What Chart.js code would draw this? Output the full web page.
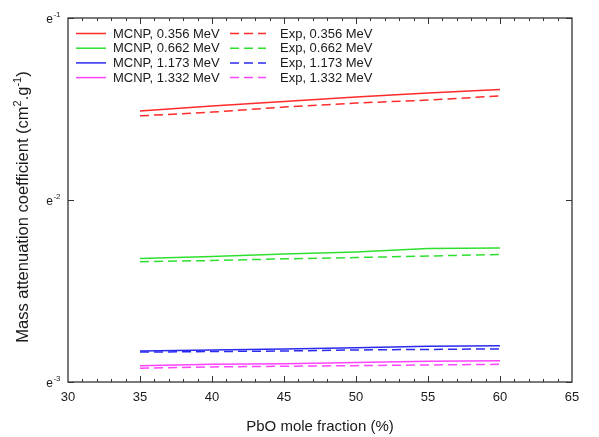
<!DOCTYPE html>
<html><head><meta charset="utf-8">
<script src="https://cdn.jsdelivr.net/npm/chart.js@4/dist/chart.umd.min.js"></script>
<style>html,body{margin:0;padding:0;background:#fff}#wrap{width:599px;height:437px}</style>
</head><body><div id="wrap"><canvas id="c" width="599" height="437"></canvas></div>
<script>
// ---- data ----
const pboFraction = [35, 40, 45, 50, 55, 60];
const energies = ['0.356', '0.662', '1.173', '1.332'];
const mcnp0356 = [0.0308, 0.0328, 0.0348, 0.0368, 0.0387, 0.0405];
const exp0356  = [0.0290, 0.0304, 0.0324, 0.0341, 0.0354, 0.0373];
const mcnp0662 = [0.00477, 0.00490, 0.00505, 0.00518, 0.00541, 0.00545];
const exp0662  = [0.00458, 0.00465, 0.00475, 0.00483, 0.00492, 0.00502];
const mcnp1173 = [0.00148, 0.00150, 0.00152, 0.00154, 0.00157, 0.00158];
const exp1173  = [0.00146, 0.00147, 0.00148, 0.00150, 0.00151, 0.00152];
const mcnp1332 = [0.00123, 0.00125, 0.00126, 0.00128, 0.00130, 0.00131];
const exp1332  = [0.00119, 0.00121, 0.00122, 0.00123, 0.00124, 0.00125];
const xTickLabels = [30, 35, 40, 45, 50, 55, 60, 65];
const yTickExponents = [-3, -2, -1];
const xTitle = 'PbO mole fraction (%)';

const colors = ['#ff2b2b', '#2ee02e', '#2b2bf0', '#ff44ff'];
const mcnpSeries = [mcnp0356, mcnp0662, mcnp1173, mcnp1332];
const expSeries = [exp0356, exp0662, exp1173, exp1332];

const toPts = arr => arr.map((v, i) => ({x: pboFraction[i], y: v}));
const datasets = [];
expSeries.forEach((s, i) => datasets.push({
  label: 'Exp, ' + energies[i] + ' MeV', data: toPts(s), borderColor: colors[i],
  borderWidth: 1.5, borderDash: [9, 5], pointRadius: 0, fill: false, tension: 0, _col: 1, _row: i
}));
mcnpSeries.forEach((s, i) => datasets.push({
  label: 'MCNP, ' + energies[i] + ' MeV', data: toPts(s), borderColor: colors[i],
  borderWidth: 1.5, pointRadius: 0, fill: false, tension: 0, _col: 0, _row: i
}));

const FONT = 'Arial, "Liberation Sans", Helvetica, sans-serif';
const TXT = '#1a1a1a';

const decor = {
  id: 'decor',
  afterDatasetsDraw(chart) {
    const ctx = chart.ctx, a = chart.chartArea;
    const xs = chart.scales.x, ys = chart.scales.y;
    ctx.save();
    ctx.strokeStyle = '#333';
    ctx.lineWidth = 1.3;
    ctx.strokeRect(a.left, a.top, a.right - a.left, a.bottom - a.top);
    // x ticks (inward, top and bottom)
    ctx.lineWidth = 1;
    for (let v = xs.min; v <= xs.max; v++) {
      if (v === xs.min || v === xs.max) continue;
      const px = Math.round(xs.getPixelForValue(v)) + 0.5;
      const len = v % 5 === 0 ? 6 : 3;
      ctx.beginPath();
      ctx.moveTo(px, a.bottom); ctx.lineTo(px, a.bottom - len);
      ctx.moveTo(px, a.top); ctx.lineTo(px, a.top + len);
      ctx.stroke();
    }
    // y ticks
    yTickExponents.forEach(e => {
      const py = Math.round(ys.getPixelForValue(Math.pow(10, e))) + 0.5;
      ctx.beginPath();
      ctx.moveTo(a.left, py); ctx.lineTo(a.left + 6, py);
      ctx.moveTo(a.right, py); ctx.lineTo(a.right - 6, py);
      ctx.stroke();
    });
    // x tick labels
    ctx.fillStyle = TXT;
    ctx.font = '13px ' + FONT;
    ctx.textAlign = 'center';
    ctx.textBaseline = 'alphabetic';
    xTickLabels.forEach(v => {
      ctx.fillText(String(v), xs.getPixelForValue(v), a.bottom + 19);
    });
    // y tick labels "e" with superscript exponent
    ctx.textAlign = 'left';
    yTickExponents.forEach(e => {
      const py = ys.getPixelForValue(Math.pow(10, e));
      ctx.font = '8px ' + FONT;
      const sup = String(e);
      const w2 = ctx.measureText(sup).width;
      ctx.font = '12px ' + FONT;
      const w1 = ctx.measureText('e').width;
      const x0 = a.left - 8 - w2 - w1;
      ctx.fillText('e', x0, py + 5);
      ctx.font = '8px ' + FONT;
      ctx.fillText(sup, x0 + w1 + 0.5, py - 1);
    });
    // x title
    ctx.font = '15px ' + FONT;
    ctx.textAlign = 'center';
    ctx.fillText(xTitle, (a.left + a.right) / 2, 431);
    // y title with superscripts
    const parts = [
      ['Mass attenuation coefficient (cm', false], ['2', true], ['.g', false], ['-1', true], [')', false]
    ];
    const fN = '16.5px ' + FONT, fS = '11px ' + FONT;
    let total = 0;
    parts.forEach(p => { ctx.font = p[1] ? fS : fN; total += ctx.measureText(p[0]).width; });
    ctx.save();
    ctx.translate(28, (a.top + a.bottom) / 2 + 7);
    ctx.rotate(-Math.PI / 2);
    ctx.textAlign = 'left';
    let cx = -total / 2;
    parts.forEach(p => {
      ctx.font = p[1] ? fS : fN;
      ctx.fillText(p[0], cx, p[1] ? -7 : 0);
      cx += ctx.measureText(p[0]).width;
    });
    ctx.restore();
    // legend (two columns inside plot)
    ctx.font = '13px ' + FONT;
    ctx.textAlign = 'left';
    ctx.textBaseline = 'middle';
    const colLine = [[a.left + 8, a.left + 38], [a.left + 162, a.left + 198]];
    const colText = [a.left + 45, a.left + 212];
    chart.data.datasets.forEach(ds => {
      const y = a.top + 15.5 + ds._row * 14.7;
      const c = ds._col;
      ctx.strokeStyle = ds.borderColor;
      ctx.lineWidth = 1.5;
      ctx.setLineDash(ds.borderDash || []);
      ctx.beginPath();
      ctx.moveTo(colLine[c][0], y); ctx.lineTo(colLine[c][1], y);
      ctx.stroke();
      ctx.setLineDash([]);
      ctx.fillStyle = TXT;
      ctx.fillText(ds.label, colText[c], y + 0.5);
    });
    ctx.restore();
  }
};

new Chart(document.getElementById('c'), {
  type: 'line',
  data: {datasets},
  plugins: [decor],
  options: {
    responsive: false,
    animation: false,
    devicePixelRatio: 1,
    layout: {padding: {left: 0, right: 27, top: 18, bottom: 0}},
    plugins: {legend: {display: false}, tooltip: {enabled: false}},
    scales: {
      x: {
        type: 'linear', min: 30, max: 65,
        ticks: {display: false, stepSize: 5},
        grid: {display: false, drawTicks: false},
        border: {display: false},
        afterFit: s => { s.height = 55; }
      },
      y: {
        type: 'logarithmic', min: 0.001, max: 0.1,
        ticks: {display: false},
        grid: {display: false, drawTicks: false},
        border: {display: false},
        afterFit: s => { s.width = 68; }
      }
    }
  }
});
</script>
</body></html>
